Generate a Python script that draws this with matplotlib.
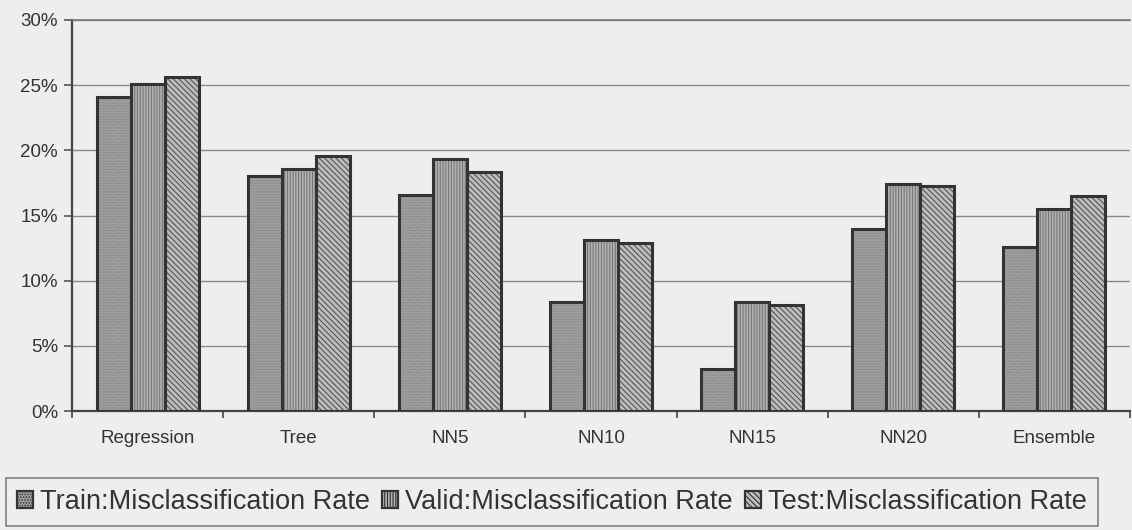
import matplotlib
matplotlib.use("Agg")
import matplotlib.pyplot as plt
import numpy as np

categories = ["Regression", "Tree", "NN5", "NN10", "NN15", "NN20", "Ensemble"]
train_rate = [24.1, 18.0, 16.6, 8.4, 3.2, 14.0, 12.6]
valid_rate = [25.1, 18.6, 19.3, 13.1, 8.4, 17.4, 15.5]
test_rate = [25.6, 19.6, 18.3, 12.9, 8.1, 17.3, 16.5]
series_labels = ["Train:Misclassification Rate",
                 "Valid:Misclassification Rate",
                 "Test:Misclassification Rate"]
y_ticks = [0, 5, 10, 15, 20, 25, 30]

plt.rcParams["font.family"] = ["Liberation Sans", "DejaVu Sans"]
plt.rcParams["hatch.linewidth"] = 0.8

bg = "#eeeeec"
fig = plt.figure(figsize=(11.32, 5.30), dpi=100, facecolor=bg)
ax = fig.add_axes([72 / 1132, 1 - 411 / 530, 1058 / 1132, 391 / 530])
ax.set_facecolor(bg)

x = np.arange(len(categories))
w = 0.225
styles = [
    dict(face="#a0a0a0", hatch="......", hcol="#868686"),
    dict(face="#b2b2b2", hatch="||||||", hcol="#777777"),
    dict(face="#bdbdbd", hatch="\\\\\\\\\\\\", hcol="#555555"),
]
handles = []
for i, (vals, st) in enumerate(zip([train_rate, valid_rate, test_rate], styles)):
    pos = x + (i - 1) * w
    # hatched fill
    ax.bar(pos, vals, w, facecolor=st["face"], edgecolor=st["hcol"],
           hatch=st["hatch"], linewidth=0, zorder=3)
    # dark outline
    ax.bar(pos, vals, w, facecolor="none", edgecolor="#333333",
           linewidth=2.2, zorder=4)
    h = plt.Rectangle((0, 0), 1, 1, facecolor=st["face"], edgecolor="#333333",
                      hatch=st["hatch"], linewidth=1.6)
    handles.append(h)

ax.set_xlim(-0.5, len(categories) - 0.5)
ax.set_ylim(0, 30)
ax.set_yticks(y_ticks)
ax.set_yticklabels([f"{v}%" for v in y_ticks])
ax.yaxis.grid(True, color="#8a8a8a", linewidth=1.0, zorder=0)
ax.set_axisbelow(True)

ax.set_xticks(x)
ax.set_xticklabels(categories)
ax.tick_params(axis="x", length=0, pad=14, labelsize=13.5, colors="#333333")
ax.set_xticks(np.arange(-0.5, len(categories), 1.0), minor=True)
ax.tick_params(axis="x", which="minor", length=5, width=1.2, color="#444444")
ax.tick_params(axis="y", length=6, width=1.2, color="#555555", labelsize=13.5,
               labelcolor="#333333", pad=4)

for side in ["left", "bottom"]:
    ax.spines[side].set_color("#444444")
    ax.spines[side].set_linewidth(1.6)
ax.spines["top"].set_color("#777777")
ax.spines["top"].set_linewidth(1.2)
ax.spines["right"].set_visible(False)

leg = fig.legend(handles, series_labels, loc="upper left",
                 bbox_to_anchor=(6 / 1132, 1 - 478 / 530), ncol=3, fontsize=19.5,
                 frameon=True, fancybox=False, edgecolor="#666666",
                 facecolor=bg, handlelength=0.6, handleheight=0.6,
                 handletextpad=0.25, columnspacing=0.45, borderpad=0.4,
                 borderaxespad=0, labelcolor="#333333")
leg.get_frame().set_linewidth(1.2)

fig.savefig("out.png", dpi=100, facecolor=bg)
